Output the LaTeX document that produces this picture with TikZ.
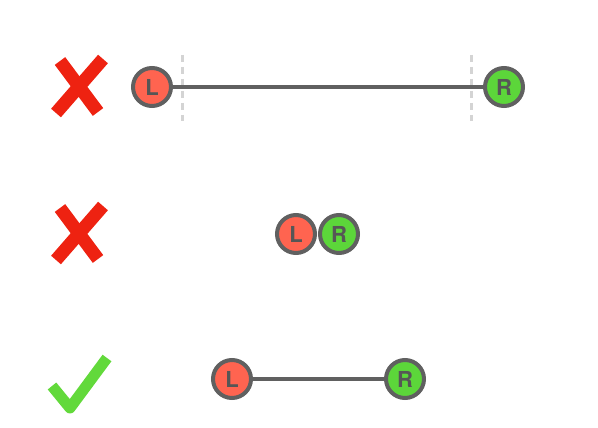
\documentclass[tikz,border=0pt]{standalone}
\usepackage{fontspec}
\setsansfont{TeX Gyre Heros}
\usetikzlibrary{positioning}
\definecolor{pal-gray}{HTML}{606060}
\definecolor{pal-red}{HTML}{FF6450}
\definecolor{pal-green}{HTML}{5CD63A}
\definecolor{mark-red}{HTML}{EE2211}
\definecolor{mark-green}{HTML}{62D93B}
\definecolor{guide}{HTML}{D4D4D4}

\begin{document}
\begin{tikzpicture}[x=1pt, y=-1pt, font=\sffamily\bfseries\fontsize{22}{22}\selectfont,
	   lnode/.style={draw=pal-gray, line width=4pt, circle, fill=pal-red, text=pal-gray!90!black, inner sep=0pt, minimum size=38pt},
	   rnode/.style={draw=pal-gray, line width=4pt, circle, fill=pal-green, text=pal-gray!90!black, inner sep=0pt, minimum size=38pt},
	   rod/.style={draw=pal-gray, line width=4pt},
	   guideline/.style={draw=guide, line width=3pt, dash pattern=on 7pt off 5pt},
	   badmark/.style={draw=mark-red, line width=13pt},
	   goodmark/.style={draw=mark-green, line width=11pt, line join=round}]
	  \useasboundingbox (0,0) rectangle (598,428);
	  % too long
	  \node[lnode] (L1) at (152,87) {L};
	  \node[rnode] (R1) at (504,87) {R};
	  \coordinate (g1a) at (182,55); \coordinate (g1b) at (182,121);
	  \coordinate (g2a) at (471,55); \coordinate (g2b) at (471,121);
	  \draw[guideline] (g1a)--(g1b); \draw[guideline] (g2a)--(g2b);
	  \draw[rod] (L1)--(R1);
	  \draw[badmark] (60,61)--(98,112); \draw[badmark] (103,59)--(56,113);
	  % too short
	  \node[lnode] (L2) at (296,234) {L};
	  \node[rnode] (R2) at (339,234) {R};
	  \draw[badmark] (60,208)--(98,259); \draw[badmark] (103,206)--(56,260);
	  % just right
	  \node[lnode] (L3) at (232,379) {L};
	  \node[rnode] (R3) at (405,379) {R};
	  \draw[rod] (L3)--(R3);
	  \draw[goodmark] (52,386)--(70,408)--(107,358);
	\end{tikzpicture}
\end{document}
